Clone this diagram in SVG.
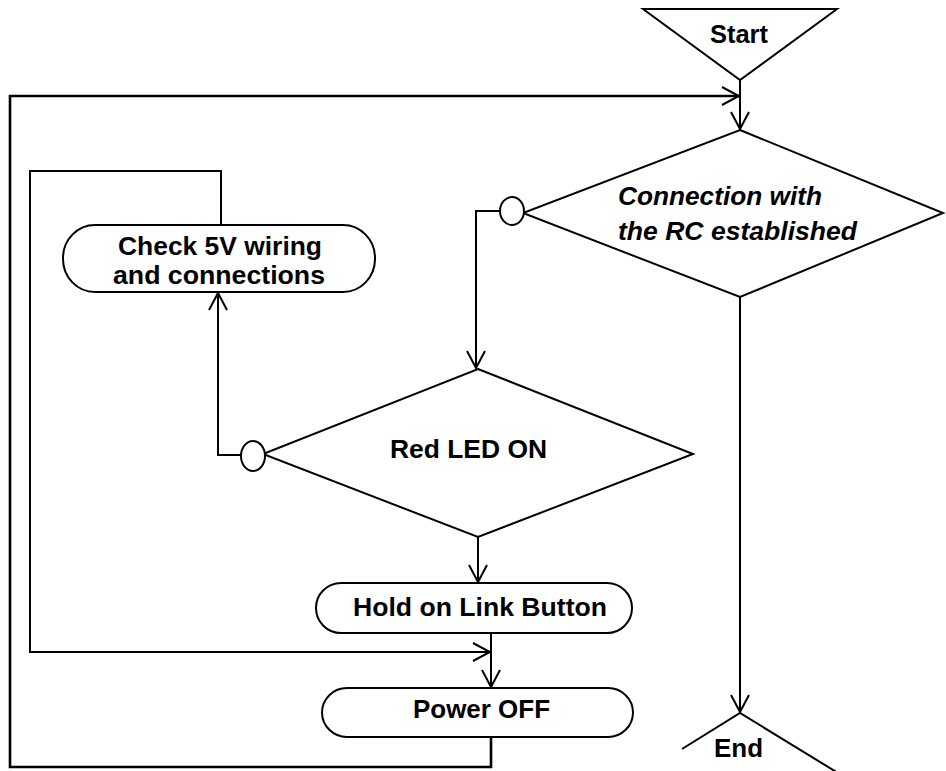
<svg xmlns="http://www.w3.org/2000/svg" width="946" height="771" viewBox="0 0 946 771">
<defs>
<marker id="arr" markerUnits="userSpaceOnUse" markerWidth="20" markerHeight="22" viewBox="0 0 20 22" refX="18" refY="11" orient="auto">
<path d="M1,2 L18,11 L1,20" fill="none" stroke="#000" stroke-width="2"/>
</marker>
<style>
.shape{fill:#fff;stroke:#000;stroke-width:2}
.line{fill:none;stroke:#000;stroke-width:2}
.thick{fill:none;stroke:#000;stroke-width:2.6}
.t{font-family:"Liberation Sans",Arial,sans-serif;font-weight:bold;font-size:25px;fill:#000}
.it{font-style:italic}
</style>
</defs>
<rect width="946" height="771" fill="#fff"/>
<g id="connectors">
<path class="line" d="M740,80 L740,129" marker-end="url(#arr)"/>
<path class="thick" d="M491,734 L491,767 L10,767 L10,96 L739,96" marker-end="url(#arr)"/>
<path class="line" d="M221,229 L221,171 L30,171 L30,652 L490,652" marker-end="url(#arr)"/>
<path class="line" d="M500,211 L476,211 L476,368" marker-end="url(#arr)"/>
<path class="line" d="M241,455 L218,455 L218,293" marker-end="url(#arr)"/>
<path class="line" d="M478,537 L478,582" marker-end="url(#arr)"/>
<path class="line" d="M491,633 L491,687" marker-end="url(#arr)"/>
<path class="line" d="M740,297 L740,712" marker-end="url(#arr)"/>
</g>
<g id="start">
<polygon class="shape" points="643,9 837,9 740,80"/>
<text class="t" x="710" y="43" textLength="58" lengthAdjust="spacingAndGlyphs">Start</text>
</g>
<g id="connection">
<polygon class="shape" points="740,130 943,213 740,297 523,213"/>
<text class="t it" x="618" y="205" textLength="204" lengthAdjust="spacingAndGlyphs">Connection with</text>
<text class="t it" x="618" y="240" textLength="239" lengthAdjust="spacingAndGlyphs">the RC established</text>
</g>
<g id="connection-no">
<ellipse class="shape" cx="512" cy="211" rx="12" ry="14"/>
</g>
<g id="check">
<rect class="shape" x="63" y="225" width="312" height="67" rx="32" ry="33"/>
<text class="t" x="118" y="255" textLength="204" lengthAdjust="spacingAndGlyphs">Check 5V wiring</text>
<text class="t" x="113" y="284" textLength="212" lengthAdjust="spacingAndGlyphs">and connections</text>
</g>
<g id="redled">
<polygon class="shape" points="478,369 693,454 478,537 263,454"/>
<text class="t" x="390" y="458" textLength="157" lengthAdjust="spacingAndGlyphs">Red LED ON</text>
</g>
<g id="redled-no">
<ellipse class="shape" cx="253" cy="456" rx="12" ry="15"/>
</g>
<g id="hold">
<rect class="shape" x="316" y="583" width="316" height="50" rx="25" ry="25"/>
<text class="t" x="353" y="616" textLength="254" lengthAdjust="spacingAndGlyphs">Hold on Link Button</text>
</g>
<g id="poweroff">
<rect class="shape" x="322" y="688" width="311" height="49" rx="25" ry="25"/>
<text class="t" x="413" y="718" textLength="137" lengthAdjust="spacingAndGlyphs">Power OFF</text>
</g>
<g id="end">
<polyline class="line" points="682,749 740,713 838,773"/>
<text class="t" x="714" y="757" textLength="49" lengthAdjust="spacingAndGlyphs">End</text>
</g>
</svg>
